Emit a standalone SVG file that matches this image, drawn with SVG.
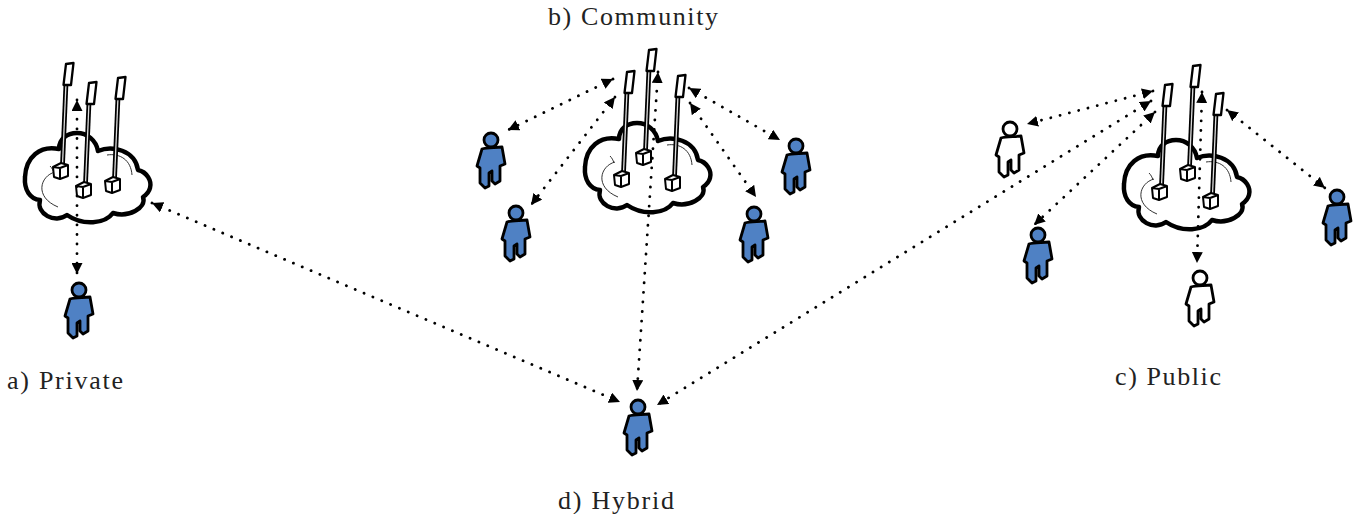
<svg xmlns="http://www.w3.org/2000/svg" width="1367" height="514" viewBox="0 0 1367 514">
<style>
text{font-family:"Liberation Serif","Times New Roman",serif;font-size:26px;fill:#222}
.cl{fill:#fff;stroke:#000;stroke-width:4.500;stroke-linejoin:round}
.th{fill:none;stroke:#333;stroke-width:1}
.m1{fill:none;stroke:#000;stroke-width:4.800}
.m2{fill:none;stroke:#ddd;stroke-width:1.300}
.pn{fill:#fff;stroke:#000;stroke-width:2.300;stroke-linejoin:round}
.bx{fill:#fff;stroke:#000;stroke-width:2;stroke-linejoin:round}
.bd,.hd{stroke:#000;stroke-width:2.800;stroke-linejoin:round}
.blue{fill:#4f81c4}
.white{fill:#fff}
.c{fill:none;stroke:#000;stroke-width:2.800;stroke-linecap:round;stroke-dasharray:.1 9.500;marker-start:url(#a);marker-end:url(#a)}
</style>
<defs>
<marker id="a" viewBox="0 0 11 11" refX="11" refY="5.500" markerWidth="11" markerHeight="11" markerUnits="userSpaceOnUse" orient="auto-start-reverse"><path d="M0,0L11,5.500L0,11Z" fill="#000"/></marker>
<g id="cloud">
<path class="cl" d="M25,177C26,157 40,145 59,149C59,139 67,133 77,133C87,133 96,140 98,151C112,145 135,150 138,170C147,172 152,181 150,188C149,192 146,195 143,197C147,208 128,218 113,213C105,224 83,226 67,215C55,224 36,214 40,200C30,199 24,190 25,177Z"/>
<path class="th" d="M55,172C40,176 34,197 58,207M107,155C120,153 131,160 132,175M50,166C52,168 53,170 54,173"/>
</g>
<g id="ant">
<path class="m1" d="M2.500,-6L6,-88"/><path class="m2" d="M2.500,-6L6,-88"/>
<path class="pn" d="M6,-107L13.500,-108L11,-86L3.500,-86Z"/>
<path class="bx" d="M-7,-4L1,-8L8,-6L0,-3ZM-7,-4L0,-3L0,8L-6,6ZM0,-3L8,-6L8,5L0,8Z"/>
</g>
<g id="person">
<path class="bd" d="M-9,9C-4,7 5,8 11,7L14,24L9,26L9,41L4,44L1,41L1,31L-2,33L-2,46L-6,48L-11,43L-11,28L-14,26Z"/>
<circle class="hd" cx="0" cy="0" r="7"/>
</g>
</defs>
<g id="cloud-a"><use href="#cloud"/><use href="#ant" x="60" y="171"/><use href="#ant" x="83" y="190"/><use href="#ant" x="112" y="185"/></g>
<g id="cloud-b" transform="translate(560,-10)"><use href="#cloud"/><use href="#ant" x="61" y="189"/><use href="#ant" x="83" y="167"/><use href="#ant" x="112" y="193"/></g>
<g id="cloud-c" transform="translate(1099,7)"><use href="#cloud"/><use href="#ant" x="60" y="185"/><use href="#ant" x="88" y="166"/><use href="#ant" x="111" y="194"/></g>
<g id="person-a" class="blue"><use href="#person" x="79" y="290"/></g>
<g id="person-d" class="blue"><use href="#person" x="638" y="407"/></g>
<g id="person-b1" class="blue"><use href="#person" x="491" y="140"/></g>
<g id="person-b2" class="blue"><use href="#person" x="516" y="213"/></g>
<g id="person-b3" class="blue"><use href="#person" x="754" y="214"/></g>
<g id="person-b4" class="blue"><use href="#person" x="796" y="146"/></g>
<g id="person-c1" class="white"><use href="#person" x="1010" y="129"/></g>
<g id="person-c2" class="white"><use href="#person" x="1200" y="278"/></g>
<g id="person-c3" class="blue"><use href="#person" x="1038" y="235"/></g>
<g id="person-c4" class="blue"><use href="#person" x="1337" y="197"/></g>
<g id="connectors">
<path class="c" d="M77,100L77,274"/>
<path class="c" d="M152,203L620,402"/>
<path class="c" d="M658,72L637,391"/>
<path class="c" d="M1151,101L657,405"/>
<path class="c" d="M613,79L508,130"/>
<path class="c" d="M615,97L531,205"/>
<path class="c" d="M689,88L780,140"/>
<path class="c" d="M690,103L756,197"/>
<path class="c" d="M1202,92L1197,263"/>
<path class="c" d="M1153,91L1027,124"/>
<path class="c" d="M1155,112L1034,225"/>
<path class="c" d="M1227,110L1325,188"/>
</g>
<g id="labels">
<text x="7" y="389" textLength="116">a) Private</text>
<text x="548" y="25" textLength="170">b) Community</text>
<text x="1115" y="385" textLength="106">c) Public</text>
<text x="558" y="509" textLength="116">d) Hybrid</text>
</g>
</svg>
